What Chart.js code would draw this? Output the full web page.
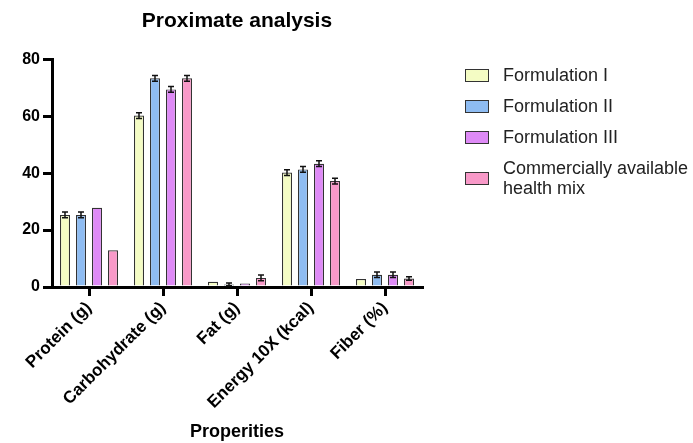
<!DOCTYPE html>
<html>
<head>
<meta charset="utf-8">
<script src="https://cdn.jsdelivr.net/npm/chart.js@4.4.1/dist/chart.umd.min.js"></script>
<style>
  body { margin: 0; background: #fff; }
  #wrap { position: relative; width: 693px; height: 443px; }
  #legend { position: absolute; left: 465px; top: 65px; font-family: "Liberation Sans", Arial, sans-serif; font-size: 18px; color: #222; }
  .item { display: flex; align-items: center; margin-bottom: 11px; line-height: 20px; }
  .box { width: 22px; height: 11px; border: 1.5px solid #333; margin-right: 14px; flex: none; }
</style>
</head>
<body>
<div id="wrap">
  <canvas id="chart" width="693" height="443"></canvas>
  <div id="legend"></div>
</div>
<script>
const categories = ["Protein (g)", "Carbohydrate (g)", "Fat (g)", "Energy 10X (kcal)", "Fiber (%)"];
const seriesNames = ["Formulation I", "Formulation II", "Formulation III", "Commercially available\nhealth mix"];
const formulation1 = [25.3, 60.2, 1.8, 40.2, 2.8];
const formulation2 = [25.3, 73.3, 0.9, 41.3, 4.3];
const formulation3 = [27.8, 69.4, 1.2, 43.3, 4.3];
const commercial = [12.9, 73.3, 3.2, 37.2, 3.0];
const err1 = [1, 1, 0, 1, 0];
const err2 = [1, 1, 0.5, 1, 1];
const err3 = [0, 1, 0, 1, 1];
const errC = [0, 1, 1, 1, 0.6];
const yTicks = [0, 20, 40, 60, 80];

const colors = ["#f4fcc4", "#8ebcf2", "#de8af6", "#f899c8"];
const values = [formulation1, formulation2, formulation3, commercial];
const errors = [err1, err2, err3, errC];

// error bars drawn on top of the bars
const errorBars = {
  id: "errorBars",
  afterDatasetsDraw(chart) {
    const ctx = chart.ctx;
    const y = chart.scales.y;
    ctx.save();
    ctx.strokeStyle = "#111";
    ctx.lineWidth = 1.5;
    chart.data.datasets.forEach((ds, i) => {
      const meta = chart.getDatasetMeta(i);
      meta.data.forEach((bar, j) => {
        const e = ds.errors[j];
        if (!e) return;
        const top = y.getPixelForValue(ds.data[j] + e);
        const bot = y.getPixelForValue(ds.data[j] - e);
        ctx.beginPath();
        ctx.moveTo(bar.x, top); ctx.lineTo(bar.x, bot);
        ctx.moveTo(bar.x - 3, top); ctx.lineTo(bar.x + 3, top);
        ctx.moveTo(bar.x - 3, bot); ctx.lineTo(bar.x + 3, bot);
        ctx.stroke();
      });
    });
    ctx.restore();
  }
};

new Chart(document.querySelector("#chart").getContext("2d"), {
  type: "bar",
  data: {
    labels: categories,
    datasets: values.map((v, i) => ({
      label: seriesNames[i],
      data: v,
      errors: errors[i],
      backgroundColor: colors[i],
      borderColor: "#333",
      borderWidth: 1.2,
      categoryPercentage: 0.865,
      barPercentage: 0.625,
    })),
  },
  options: {
    responsive: false,
    animation: false,
    layout: { padding: { left: 0, right: 271, top: 0, bottom: 0 } },
    plugins: {
      legend: { display: false },
      tooltip: { enabled: false },
      title: {
        display: true,
        text: "Proximate analysis",
        fullSize: false,
        color: "#000",
        font: { family: "Liberation Sans, Arial", size: 21, weight: "bold" },
        padding: { top: 9, bottom: 25 },
      },
    },
    scales: {
      x: {
        afterFit: (s) => { s.height = 156; },
        border: { color: "#000", width: 3 },
        grid: { offset: false, drawOnChartArea: false, color: "#000", lineWidth: 3, tickLength: 9 },
        ticks: {
          color: "#000",
          maxRotation: 45,
          minRotation: 45,
          padding: 2,
          font: { family: "Liberation Sans, Arial", size: 17, weight: "bold" },
        },
        title: {
          display: true,
          text: "Properities",
          color: "#000",
          padding: { top: 0, bottom: 0 },
          font: { family: "Liberation Sans, Arial", size: 18, weight: "bold" },
        },
      },
      y: {
        min: 0,
        max: 80,
        afterFit: (s) => { s.width = 52; },
        afterBuildTicks: (s) => { s.ticks = yTicks.map((v) => ({ value: v })); },
        border: { color: "#000", width: 3 },
        grid: { drawOnChartArea: false, color: "#000", lineWidth: 3, tickLength: 9 },
        ticks: {
          color: "#000",
          padding: 3,
          font: { family: "Liberation Sans, Arial", size: 16, weight: "bold" },
        },
      },
    },
  },
  plugins: [errorBars],
});

// html legend
const legend = document.querySelector("#legend");
seriesNames.forEach((name, i) => {
  const item = document.createElement("div");
  item.className = "item";
  const box = document.createElement("span");
  box.className = "box";
  box.style.background = colors[i];
  const txt = document.createElement("span");
  txt.innerHTML = name.replace("\n", "<br>");
  item.appendChild(box);
  item.appendChild(txt);
  legend.appendChild(item);
});
</script>
</body>
</html>
